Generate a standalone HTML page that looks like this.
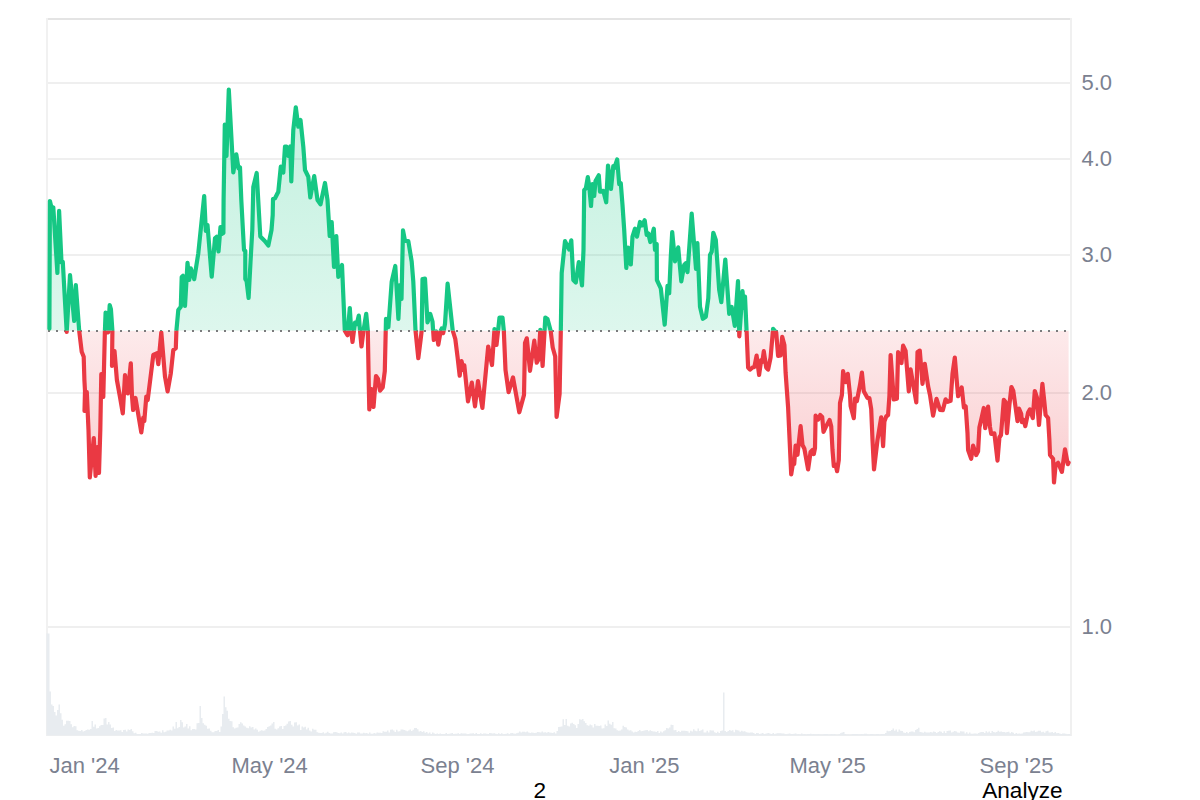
<!DOCTYPE html>
<html lang="en">
<head>
<meta charset="utf-8">
<title>Chart</title>
<style>
html,body{margin:0;padding:0;background:#fff;}
body{width:1200px;height:800px;overflow:hidden;position:relative;font-family:"Liberation Sans",sans-serif;}
svg{position:absolute;left:0;top:0;display:block;}
.ax{font-family:"Liberation Sans",sans-serif;font-size:22px;fill:#7b8190;}
.bt{font-family:"Liberation Sans",sans-serif;font-size:22.6px;fill:#000;}
</style>
</head>
<body>
<svg width="1200" height="800" viewBox="0 0 1200 800">
<defs>
<linearGradient id="gg" gradientUnits="userSpaceOnUse" x1="0" y1="18" x2="0" y2="330.8">
<stop offset="0" stop-color="#16c784" stop-opacity="0.30"/>
<stop offset="1" stop-color="#16c784" stop-opacity="0.145"/>
</linearGradient>
<linearGradient id="rg" gradientUnits="userSpaceOnUse" x1="0" y1="330.8" x2="0" y2="490">
<stop offset="0" stop-color="#ea3943" stop-opacity="0.105"/>
<stop offset="1" stop-color="#ea3943" stop-opacity="0.26"/>
</linearGradient>
<clipPath id="ct"><rect x="46" y="18" width="1026" height="312.8"/></clipPath>
<clipPath id="cb"><rect x="46" y="330.8" width="1026" height="405"/></clipPath>
<clipPath id="cp"><rect x="46" y="18" width="1026" height="718"/></clipPath>
</defs>

<line x1="46" y1="83" x2="1072" y2="83" stroke="#efefef" stroke-width="2"/>
<line x1="46" y1="159" x2="1072" y2="159" stroke="#efefef" stroke-width="2"/>
<line x1="46" y1="255" x2="1072" y2="255" stroke="#efefef" stroke-width="2"/>
<line x1="46" y1="393" x2="1072" y2="393" stroke="#efefef" stroke-width="2"/>
<line x1="46" y1="627" x2="1072" y2="627" stroke="#efefef" stroke-width="2"/>
<line x1="47" y1="19" x2="1072" y2="19" stroke="#e4e4e4" stroke-width="2"/>
<line x1="46" y1="735" x2="1072" y2="735" stroke="#f0f0f0" stroke-width="2"/>
<line x1="47" y1="18" x2="47" y2="736" stroke="#f1f1f1" stroke-width="2"/>
<line x1="1071" y1="18" x2="1071" y2="736" stroke="#f0f0f0" stroke-width="2"/>
<path d="M46.5 735.5 V633.5 H48 V633.5 H49.5 V691.5 H51 V704.4 H52.5 V705.9 H54 V712 H55.5 V715.6 H57 V710.1 H58.5 V704.5 H60 V713.2 H61.5 V719.7 H63 V725.7 H64.5 V724.2 H66 V720.8 H67.5 V720.8 H69 V721.1 H70.5 V724.2 H72 V727.3 H73.5 V726 H75 V726.2 H76.5 V730.2 H78 V730.8 H79.5 V731 H81 V729.9 H82.5 V731.5 H84 V731 H85.5 V729.9 H87 V729.5 H88.5 V729.8 H90 V728.9 H91.5 V720.9 H93 V726.8 H94.5 V724.4 H96 V728.5 H97.5 V728.1 H99 V726.2 H100.5 V725 H102 V725 H103.5 V718.5 H105 V718.1 H106.5 V724.4 H108 V722.1 H109.5 V724.6 H111 V728.1 H112.5 V727.5 H114 V731 H115.5 V729.9 H117 V730.5 H118.5 V730.5 H120 V730.3 H121.5 V731.9 H123 V729.9 H124.5 V729.8 H126 V731.5 H127.5 V729.4 H129 V730 H130.5 V729.1 H132 V731.3 H133.5 V733.2 H135 V732.8 H136.5 V734 H138 V734 H139.5 V733.9 H141 V733 H142.5 V733.5 H144 V733.5 H145.5 V733.5 H147 V733.7 H148.5 V732.9 H150 V733 H151.5 V732.7 H153 V733 H154.5 V731 H156 V731.1 H157.5 V731.8 H159 V731.4 H160.5 V732.8 H162 V730.2 H163.5 V732.3 H165 V731.7 H166.5 V730.4 H168 V730.4 H169.5 V729.7 H171 V730.5 H172.5 V726.5 H174 V728.8 H175.5 V722 H177 V728.2 H178.5 V726.9 H180 V720.1 H181.5 V722.2 H183 V727.6 H184.5 V726.4 H186 V723.9 H187.5 V728.6 H189 V726.3 H190.5 V730.3 H192 V729.1 H193.5 V729 H195 V729.4 H196.5 V723.2 H198 V723 H199.5 V705.9 H201 V718 H202.5 V723.2 H204 V724.8 H205.5 V725.7 H207 V728.8 H208.5 V728.4 H210 V730.8 H211.5 V732.2 H213 V732.3 H214.5 V730.9 H216 V731 H217.5 V730 H219 V731.9 H220.5 V726.6 H222 V714.1 H223.5 V696.5 H225 V707.3 H226.5 V710.8 H228 V718.8 H229.5 V721 H231 V721.3 H232.5 V727.2 H234 V728.4 H235.5 V727.8 H237 V727.4 H238.5 V724.1 H240 V722.3 H241.5 V723.5 H243 V725.5 H244.5 V726.4 H246 V727.7 H247.5 V728.3 H249 V726.2 H250.5 V727.6 H252 V726.9 H253.5 V729.4 H255 V728.5 H256.5 V729.7 H258 V731.8 H259.5 V730.7 H261 V730.2 H262.5 V730.8 H264 V730.6 H265.5 V729 H267 V726.9 H268.5 V726.3 H270 V725.6 H271.5 V723.4 H273 V721.9 H274.5 V728.7 H276 V729.4 H277.5 V728.2 H279 V726.4 H280.5 V726 H282 V729 H283.5 V726 H285 V725.6 H286.5 V723.8 H288 V721.5 H289.5 V721.1 H291 V724.7 H292.5 V726.6 H294 V722.5 H295.5 V722.2 H297 V725.4 H298.5 V724.5 H300 V730 H301.5 V726.5 H303 V727.5 H304.5 V726.8 H306 V729.5 H307.5 V727.8 H309 V730.5 H310.5 V731.6 H312 V728.7 H313.5 V729.8 H315 V729.7 H316.5 V732.2 H318 V732.7 H319.5 V733.1 H321 V732.9 H322.5 V732.3 H324 V733.4 H325.5 V732.7 H327 V731.8 H328.5 V733.1 H330 V733.5 H331.5 V733.4 H333 V732.2 H334.5 V732 H336 V732.2 H337.5 V732.9 H339 V733.3 H340.5 V732.4 H342 V733.5 H343.5 V732.3 H345 V732.1 H346.5 V733.2 H348 V732.6 H349.5 V733.2 H351 V732.5 H352.5 V732.7 H354 V733.1 H355.5 V733.7 H357 V732.4 H358.5 V732.5 H360 V733.5 H361.5 V733.6 H363 V732.7 H364.5 V733.3 H366 V732.9 H367.5 V733.7 H369 V732.5 H370.5 V733.8 H372 V733.8 H373.5 V732.9 H375 V733.5 H376.5 V732.4 H378 V732.7 H379.5 V732.8 H381 V732.9 H382.5 V731.2 H384 V731.8 H385.5 V731.7 H387 V730.5 H388.5 V732.4 H390 V729.8 H391.5 V729.6 H393 V730.4 H394.5 V731.9 H396 V729.8 H397.5 V731.6 H399 V731.3 H400.5 V729.6 H402 V729.5 H403.5 V730 H405 V730.5 H406.5 V731.2 H408 V730.5 H409.5 V729.5 H411 V731.1 H412.5 V729.7 H414 V728.1 H415.5 V727.9 H417 V729.2 H418.5 V731.5 H420 V730.9 H421.5 V731.9 H423 V731.2 H424.5 V732.7 H426 V731.9 H427.5 V733.4 H429 V732.6 H430.5 V734 H432 V732.6 H433.5 V733.4 H435 V733.9 H436.5 V733.4 H438 V733.9 H439.5 V733.6 H441 V733.9 H442.5 V734 H444 V733.9 H445.5 V733.1 H447 V734 H448.5 V733.7 H450 V733.6 H451.5 V733.1 H453 V734.1 H454.5 V733.7 H456 V733.7 H457.5 V733.3 H459 V733.9 H460.5 V733.3 H462 V733.5 H463.5 V733.5 H465 V733.5 H466.5 V734.2 H468 V733.9 H469.5 V733.6 H471 V733.6 H472.5 V733.2 H474 V733.9 H475.5 V733.1 H477 V734 H478.5 V733.9 H480 V733.3 H481.5 V733.9 H483 V733.5 H484.5 V733.4 H486 V733.8 H487.5 V734.1 H489 V733.1 H490.5 V733.3 H492 V733.6 H493.5 V733.3 H495 V733.7 H496.5 V734.2 H498 V733.2 H499.5 V734.1 H501 V733.3 H502.5 V734.2 H504 V733.9 H505.5 V733.8 H507 V733.2 H508.5 V734.2 H510 V733.3 H511.5 V733.1 H513 V733.5 H514.5 V733.7 H516 V733.2 H517.5 V732.7 H519 V731.6 H520.5 V732.5 H522 V731.8 H523.5 V731.8 H525 V732.3 H526.5 V731.5 H528 V732.4 H529.5 V733.1 H531 V732.4 H532.5 V732.8 H534 V733.1 H535.5 V732.8 H537 V732 H538.5 V732.3 H540 V732.4 H541.5 V731.4 H543 V732.5 H544.5 V732.3 H546 V732.7 H547.5 V731.9 H549 V732.4 H550.5 V732.8 H552 V732.9 H553.5 V732.2 H555 V733.4 H556.5 V731.1 H558 V727 H559.5 V726.7 H561 V726.4 H562.5 V719.2 H564 V724.9 H565.5 V718.9 H567 V725.8 H568.5 V726.6 H570 V723.5 H571.5 V722.7 H573 V724 H574.5 V725.2 H576 V728.1 H577.5 V724 H579 V719.3 H580.5 V719.7 H582 V718.9 H583.5 V721.2 H585 V723 H586.5 V725.2 H588 V725.7 H589.5 V724.6 H591 V725.3 H592.5 V727.6 H594 V724.1 H595.5 V725.7 H597 V725.7 H598.5 V726 H600 V725.4 H601.5 V728.5 H603 V728.2 H604.5 V724.4 H606 V726.1 H607.5 V720.5 H609 V723.8 H610.5 V724.7 H612 V721.9 H613.5 V728.3 H615 V728.5 H616.5 V730.2 H618 V730.8 H619.5 V730.6 H621 V729.5 H622.5 V725.8 H624 V727 H625.5 V727.5 H627 V729.6 H628.5 V730.5 H630 V730.2 H631.5 V731.5 H633 V732.4 H634.5 V731.8 H636 V732 H637.5 V731 H639 V730.1 H640.5 V731.3 H642 V731.1 H643.5 V730.6 H645 V730.3 H646.5 V730.1 H648 V731.2 H649.5 V730.2 H651 V730.9 H652.5 V731.5 H654 V731.5 H655.5 V732 H657 V731 H658.5 V733 H660 V731.6 H661.5 V732.5 H663 V731.3 H664.5 V730.2 H666 V728 H667.5 V728.6 H669 V727.6 H670.5 V724.8 H672 V725.1 H673.5 V730.2 H675 V730 H676.5 V732.1 H678 V730.9 H679.5 V732 H681 V730.8 H682.5 V730.7 H684 V730.7 H685.5 V731 H687 V731.3 H688.5 V732.8 H690 V730.7 H691.5 V731.5 H693 V729.3 H694.5 V730.7 H696 V731.2 H697.5 V728.4 H699 V730.9 H700.5 V730.3 H702 V729.6 H703.5 V732.4 H705 V732.4 H706.5 V730.7 H708 V732.5 H709.5 V730.3 H711 V730.4 H712.5 V730.6 H714 V732.3 H715.5 V732.9 H717 V731.8 H718.5 V733 H720 V730.9 H721.5 V730.4 H723 V692.5 H724.5 V730.9 H726 V732.1 H727.5 V730.9 H729 V730 H730.5 V730.7 H732 V730.3 H733.5 V732.2 H735 V729.8 H736.5 V730.2 H738 V730.6 H739.5 V731.8 H741 V730.8 H742.5 V731.4 H744 V731.3 H745.5 V732.2 H747 V732.4 H748.5 V732.8 H750 V732.5 H751.5 V732.6 H753 V733.1 H754.5 V733.9 H756 V733.1 H757.5 V733.2 H759 V734 H760.5 V733.5 H762 V732.9 H763.5 V734.1 H765 V733.7 H766.5 V733.2 H768 V732.9 H769.5 V733.8 H771 V733.9 H772.5 V732.9 H774 V734.2 H775.5 V733.6 H777 V733.2 H778.5 V733.3 H780 V733.2 H781.5 V733.6 H783 V733.5 H784.5 V734.3 H786 V734.2 H787.5 V733.8 H789 V733.5 H790.5 V733.9 H792 V734 H793.5 V733.8 H795 V733.4 H796.5 V734.3 H798 V734.1 H799.5 V734.4 H801 V733.6 H802.5 V734.3 H804 V734.1 H805.5 V734.5 H807 V734 H808.5 V734.1 H810 V733.8 H811.5 V734.3 H813 V733.9 H814.5 V734.2 H816 V734.3 H817.5 V733.9 H819 V734.3 H820.5 V734.4 H822 V734.6 H823.5 V733.9 H825 V733.9 H826.5 V734 H828 V734.6 H829.5 V734.3 H831 V734.1 H832.5 V734.2 H834 V734 H835.5 V734.7 H837 V734.7 H838.5 V734 H840 V733.2 H841.5 V732.5 H843 V732.1 H844.5 V734 H846 V734.5 H847.5 V734.4 H849 V734.7 H850.5 V734.5 H852 V734.1 H853.5 V734 H855 V734.1 H856.5 V733.9 H858 V734.2 H859.5 V734.3 H861 V733.9 H862.5 V734.3 H864 V733.8 H865.5 V733.8 H867 V734.3 H868.5 V734.6 H870 V734.1 H871.5 V734.1 H873 V734.3 H874.5 V734.5 H876 V733.9 H877.5 V734.1 H879 V734.4 H880.5 V734 H882 V734.1 H883.5 V734 H885 V733 H886.5 V730.7 H888 V731.3 H889.5 V730.9 H891 V730 H892.5 V728.4 H894 V730.8 H895.5 V729.5 H897 V731.8 H898.5 V729.4 H900 V730.8 H901.5 V730.9 H903 V732.4 H904.5 V732.9 H906 V732 H907.5 V733.2 H909 V732 H910.5 V731.4 H912 V731.4 H913.5 V732.3 H915 V729.9 H916.5 V729.1 H918 V727.8 H919.5 V731.9 H921 V732.3 H922.5 V732.8 H924 V731.8 H925.5 V732.6 H927 V732.4 H928.5 V732.5 H930 V732 H931.5 V732.5 H933 V731.6 H934.5 V731.9 H936 V732.9 H937.5 V732.1 H939 V731.3 H940.5 V731.8 H942 V733 H943.5 V731.2 H945 V732.9 H946.5 V731.1 H948 V730.7 H949.5 V730.5 H951 V732.5 H952.5 V731.7 H954 V731.1 H955.5 V731.6 H957 V732.4 H958.5 V732.8 H960 V731.3 H961.5 V731.4 H963 V731.4 H964.5 V733.5 H966 V732.2 H967.5 V733.7 H969 V732.5 H970.5 V733.8 H972 V733.7 H973.5 V733.6 H975 V733.5 H976.5 V733.7 H978 V733.1 H979.5 V732.2 H981 V731.9 H982.5 V731.9 H984 V733.1 H985.5 V731.2 H987 V732.4 H988.5 V731.4 H990 V733 H991.5 V731 H993 V732.1 H994.5 V732.5 H996 V732 H997.5 V730.8 H999 V731.8 H1000.5 V731.4 H1002 V732 H1003.5 V732 H1005 V732.4 H1006.5 V732.1 H1008 V731.7 H1009.5 V733.2 H1011 V732.1 H1012.5 V732.8 H1014 V734 H1015.5 V733 H1017 V733.7 H1018.5 V733.6 H1020 V733.8 H1021.5 V733.6 H1023 V732.6 H1024.5 V732.3 H1026 V731.9 H1027.5 V732.2 H1029 V732.3 H1030.5 V730.8 H1032 V731.2 H1033.5 V730.6 H1035 V732 H1036.5 V731.4 H1038 V730.8 H1039.5 V730.8 H1041 V732.2 H1042.5 V731.7 H1044 V732.7 H1045.5 V731.3 H1047 V730.8 H1048.5 V732.5 H1050 V732.6 H1051.5 V731.9 H1053 V733 H1054.5 V732 H1056 V733.3 H1057.5 V733 H1059 V733.6 H1060.5 V734.1 H1062 V733.5 H1063.5 V733.5 H1065 V733.8 H1066.5 V734.2 H1068 V734.1 H1069.5 V733.9 H1070.6 V735.5 Z" fill="#e8ecf0" clip-path="url(#cp)"/>
<g clip-path="url(#ct)"><path d="M49.4 328.7 L49.9 201 L51.8 209 L53.3 207.5 L57.4 273 L59.1 210.8 L61.5 262.5 L62.8 262 L66.7 332 L70 275 L74.2 321 L75.8 285 L79.2 330.8 L81.7 351.7 L83.7 356.7 L84.4 380 L85 391 L84.5 411 L86.8 392 L88.5 430 L89.8 477.5 L93.8 438 L95.6 476 L97.3 447 L99 473 L100.3 430 L101.3 374 L103.3 397 L104.9 331 L105.6 312.5 L108.1 332.3 L109.7 305 L110.9 309 L112.4 331 L112 366 L114.5 351 L116.9 380 L120 397 L122.8 413.5 L125 375 L127.8 393.5 L130.8 363.3 L132 396 L133.1 410 L135.5 398 L141.3 432.5 L143.3 417.5 L144.3 421 L146.3 396.5 L147.7 400 L153.3 355 L156.7 353.3 L158.3 364.2 L161.3 332.5 L165 376.7 L167.6 391.5 L170.8 373.3 L173.3 350 L175.8 348.3 L176.4 330.8 L178.3 310 L180.8 306.7 L181.7 277 L183 275.8 L185 305.8 L187.5 262.8 L189.2 280 L190.8 268.3 L194.2 279.2 L198.3 253.3 L204.2 196 L205.8 230.8 L207.5 225 L211.7 276.7 L215 238.3 L216.7 236.7 L218.5 251.5 L220.5 227 L221.8 234 L223.4 233 L223.6 200 L224.8 124.5 L226.5 156 L228.8 89.5 L233.3 172.5 L236.3 154.3 L238.5 168.5 L240 167.5 L241.3 200 L244 250 L245.3 251 L245.3 279 L246.6 281 L248.6 298 L250.5 262 L252.3 230 L253.3 187 L256.7 173 L258.5 205 L260.3 236.5 L265 241.2 L268.3 245.5 L271.5 230 L272.7 215 L273 199 L275 198.3 L278.3 191.7 L280.8 166.7 L283.3 172.5 L285 146.7 L286.5 146.5 L288.2 156 L290.3 146.5 L291.3 181.5 L293.3 130 L295.8 107.3 L298.3 126.7 L300.5 120 L303.3 146.7 L305 170 L308.3 176.7 L310.3 197.5 L314.2 176 L317.5 200 L320.5 204.2 L325 183 L327.5 200 L329.7 236 L331.7 222 L334 267 L336.3 236 L338.3 277 L342 265 L344.8 330.6 L347.5 335.3 L349.8 308 L351.2 330.6 L352.5 342 L355 322.5 L356.8 324 L358.8 315.6 L360 330.6 L361.5 346.5 L363.5 330.6 L366.2 313.8 L367.8 330.6 L368.8 386 L369.3 409.5 L371.5 389 L373.5 407 L376 376 L378 379 L380 390.7 L382.7 387.5 L384.8 371 L386 318.8 L388.4 327 L391.7 281.7 L395.3 266 L398.4 319 L400 285 L401.5 299 L403 230.3 L405 240.8 L408.3 241 L411.7 261.7 L413.3 281.7 L415.5 330.5 L418.3 358.2 L420.6 340 L421.7 330.5 L422.5 279 L425 278.7 L427.5 322.3 L430.3 314 L432.5 321.5 L433.8 340 L436.3 331.5 L438.3 344.6 L440.8 330.5 L441.7 328.5 L443.2 333.2 L445 324 L447.6 283.7 L452.7 330.5 L455.3 339 L457.5 356.5 L459.7 375.7 L461.5 361 L463.5 370 L464.3 365.3 L468 401.3 L471.8 382.6 L475 406.3 L478 381 L482.4 408 L488.2 346.5 L492 365 L494.5 329 L496.5 345 L499.5 317.5 L502.5 317.5 L503.8 330.5 L505.5 370 L508.6 392.2 L513 377.4 L519.3 412.3 L524 395 L525 343 L526.8 338.3 L530 370.8 L534.3 340.7 L536.7 362.7 L538.5 359.5 L540.3 329.8 L542.6 366 L545.3 317.6 L547.5 319 L550.6 330.5 L552.7 347.5 L555.2 356.5 L556.6 417 L559.6 394 L560.8 331 L561.7 273 L565 241.2 L569.2 249.5 L571.3 240.3 L573.3 280 L575.8 282.5 L578.8 262 L582 285.5 L583.5 250 L584.2 190 L585.8 188.5 L587.8 177 L589.2 186 L591 206 L592.5 184 L594.2 196 L595.5 181 L598.8 175.3 L600 191.7 L603.3 190.8 L606.2 202.3 L608 165.6 L611 189 L613.3 166 L614.3 168 L617.2 159.5 L619.2 184.2 L620.8 183.3 L622.5 205 L624.2 230 L626.3 268 L628 247.5 L629.2 252 L630.8 264.5 L632.5 236.7 L635 228.7 L637 236.7 L640 222 L642 225.5 L644.7 220.3 L646.7 235 L648.3 233.5 L650.3 242 L653.8 228.7 L655 250 L656.7 244 L656.9 280 L660.8 288.3 L664.7 324.7 L667.5 285.8 L669.2 293.3 L670.8 256.7 L672.2 232 L675 261.3 L678.2 247.4 L681.3 281.3 L684.2 265 L685.8 263.3 L687.5 272.2 L691.7 213.7 L696 268.8 L697.4 243 L700 306.7 L702.8 318.8 L705.8 316.7 L708.3 298.3 L710 255 L711.7 251.7 L713.3 232.8 L715.8 240 L719.2 290 L721.3 302.2 L725.3 259.5 L727.5 290 L729.2 313.8 L731.7 307 L734.8 326 L738 281.2 L739.3 336.3 L742.5 291.2 L744 308 L745 296.5 L746.6 331 L748.1 367.5 L750 369.6 L752.5 367.5 L754.4 366.9 L756.6 355.6 L759.1 375 L761.2 360 L762.3 362 L763.8 351.2 L766.2 367.5 L768.1 369.6 L770.6 357.5 L773.1 328.8 L776.2 332.5 L778.1 355.9 L780.6 355.5 L782.2 336.9 L784.4 345 L785.6 372.5 L788.1 407.5 L791.2 474.4 L793.5 460 L794.2 464 L795.6 445.6 L797.5 454.8 L800.6 426.2 L802.5 445 L804.4 448.8 L808.1 469.4 L810.6 451.9 L812.5 450 L813.8 454 L815 448 L815.6 415.6 L818.1 419.6 L820.2 415 L822.2 417 L823.5 431.9 L826.2 426.2 L829.6 420 L831.2 426.2 L832.5 450 L833.8 466 L835.6 465 L837.1 471.2 L838.8 460 L840 403 L841.9 395 L843.1 371.2 L845.6 382.1 L847.8 373.8 L850 395 L850.6 406 L853.8 418.1 L855 398.5 L856.9 401 L860 385 L861.9 372.5 L863.8 391.2 L867.5 398 L869.4 398 L871.2 409 L872.5 440 L874 469.4 L877.5 440 L881.2 417.3 L883.1 446.2 L884.4 421.5 L886.2 416.5 L888.1 415 L889.4 396 L890.6 355 L893.8 399.5 L896.9 398.8 L898.1 352 L901.5 363 L903.1 345.6 L905.6 351 L908.8 391.4 L910.6 369.4 L916.3 402.5 L917.5 352 L919.8 350.6 L922.5 383.8 L924.8 363.8 L928.1 386.2 L930 395 L933.1 415.6 L936.5 398.8 L940 409.8 L942.8 410.2 L945.6 399.4 L947.8 401.8 L950.6 400.8 L952.5 373.8 L954.8 357.5 L956.9 382.5 L958.1 396.2 L961.7 387.5 L963.9 407.4 L965.7 406.5 L967.5 433 L968.1 450 L971.2 458.8 L973.1 445.6 L976.2 455 L978.1 451.2 L979.4 427.5 L981.7 417.5 L983.8 408 L985.2 428.1 L988.1 406.7 L990 427 L991.2 433.8 L994.4 433.4 L997.5 460.6 L999.4 437.5 L1001 435 L1003.8 399.8 L1005.6 402 L1006.9 433.1 L1009.4 405 L1011.4 387 L1013.3 391 L1015.6 407.5 L1017.5 421.2 L1019 408.6 L1021.2 413.8 L1021.9 422.2 L1023.8 420 L1025.3 426.2 L1028.1 412.5 L1029.9 409.4 L1032.8 418.1 L1034.8 391 L1036.9 397.5 L1039 425 L1042.4 383.8 L1044.4 402.5 L1045.6 415 L1048.1 418 L1049.4 440 L1050 455 L1053.1 458.8 L1054 482.5 L1055.6 465 L1058.1 462.8 L1061.9 471.9 L1065 449.4 L1067.8 464.2 L1068.6 462.6 L1068.6 330.8 L49.4 330.8 Z" fill="url(#gg)"/></g>
<g clip-path="url(#cb)"><path d="M49.4 328.7 L49.9 201 L51.8 209 L53.3 207.5 L57.4 273 L59.1 210.8 L61.5 262.5 L62.8 262 L66.7 332 L70 275 L74.2 321 L75.8 285 L79.2 330.8 L81.7 351.7 L83.7 356.7 L84.4 380 L85 391 L84.5 411 L86.8 392 L88.5 430 L89.8 477.5 L93.8 438 L95.6 476 L97.3 447 L99 473 L100.3 430 L101.3 374 L103.3 397 L104.9 331 L105.6 312.5 L108.1 332.3 L109.7 305 L110.9 309 L112.4 331 L112 366 L114.5 351 L116.9 380 L120 397 L122.8 413.5 L125 375 L127.8 393.5 L130.8 363.3 L132 396 L133.1 410 L135.5 398 L141.3 432.5 L143.3 417.5 L144.3 421 L146.3 396.5 L147.7 400 L153.3 355 L156.7 353.3 L158.3 364.2 L161.3 332.5 L165 376.7 L167.6 391.5 L170.8 373.3 L173.3 350 L175.8 348.3 L176.4 330.8 L178.3 310 L180.8 306.7 L181.7 277 L183 275.8 L185 305.8 L187.5 262.8 L189.2 280 L190.8 268.3 L194.2 279.2 L198.3 253.3 L204.2 196 L205.8 230.8 L207.5 225 L211.7 276.7 L215 238.3 L216.7 236.7 L218.5 251.5 L220.5 227 L221.8 234 L223.4 233 L223.6 200 L224.8 124.5 L226.5 156 L228.8 89.5 L233.3 172.5 L236.3 154.3 L238.5 168.5 L240 167.5 L241.3 200 L244 250 L245.3 251 L245.3 279 L246.6 281 L248.6 298 L250.5 262 L252.3 230 L253.3 187 L256.7 173 L258.5 205 L260.3 236.5 L265 241.2 L268.3 245.5 L271.5 230 L272.7 215 L273 199 L275 198.3 L278.3 191.7 L280.8 166.7 L283.3 172.5 L285 146.7 L286.5 146.5 L288.2 156 L290.3 146.5 L291.3 181.5 L293.3 130 L295.8 107.3 L298.3 126.7 L300.5 120 L303.3 146.7 L305 170 L308.3 176.7 L310.3 197.5 L314.2 176 L317.5 200 L320.5 204.2 L325 183 L327.5 200 L329.7 236 L331.7 222 L334 267 L336.3 236 L338.3 277 L342 265 L344.8 330.6 L347.5 335.3 L349.8 308 L351.2 330.6 L352.5 342 L355 322.5 L356.8 324 L358.8 315.6 L360 330.6 L361.5 346.5 L363.5 330.6 L366.2 313.8 L367.8 330.6 L368.8 386 L369.3 409.5 L371.5 389 L373.5 407 L376 376 L378 379 L380 390.7 L382.7 387.5 L384.8 371 L386 318.8 L388.4 327 L391.7 281.7 L395.3 266 L398.4 319 L400 285 L401.5 299 L403 230.3 L405 240.8 L408.3 241 L411.7 261.7 L413.3 281.7 L415.5 330.5 L418.3 358.2 L420.6 340 L421.7 330.5 L422.5 279 L425 278.7 L427.5 322.3 L430.3 314 L432.5 321.5 L433.8 340 L436.3 331.5 L438.3 344.6 L440.8 330.5 L441.7 328.5 L443.2 333.2 L445 324 L447.6 283.7 L452.7 330.5 L455.3 339 L457.5 356.5 L459.7 375.7 L461.5 361 L463.5 370 L464.3 365.3 L468 401.3 L471.8 382.6 L475 406.3 L478 381 L482.4 408 L488.2 346.5 L492 365 L494.5 329 L496.5 345 L499.5 317.5 L502.5 317.5 L503.8 330.5 L505.5 370 L508.6 392.2 L513 377.4 L519.3 412.3 L524 395 L525 343 L526.8 338.3 L530 370.8 L534.3 340.7 L536.7 362.7 L538.5 359.5 L540.3 329.8 L542.6 366 L545.3 317.6 L547.5 319 L550.6 330.5 L552.7 347.5 L555.2 356.5 L556.6 417 L559.6 394 L560.8 331 L561.7 273 L565 241.2 L569.2 249.5 L571.3 240.3 L573.3 280 L575.8 282.5 L578.8 262 L582 285.5 L583.5 250 L584.2 190 L585.8 188.5 L587.8 177 L589.2 186 L591 206 L592.5 184 L594.2 196 L595.5 181 L598.8 175.3 L600 191.7 L603.3 190.8 L606.2 202.3 L608 165.6 L611 189 L613.3 166 L614.3 168 L617.2 159.5 L619.2 184.2 L620.8 183.3 L622.5 205 L624.2 230 L626.3 268 L628 247.5 L629.2 252 L630.8 264.5 L632.5 236.7 L635 228.7 L637 236.7 L640 222 L642 225.5 L644.7 220.3 L646.7 235 L648.3 233.5 L650.3 242 L653.8 228.7 L655 250 L656.7 244 L656.9 280 L660.8 288.3 L664.7 324.7 L667.5 285.8 L669.2 293.3 L670.8 256.7 L672.2 232 L675 261.3 L678.2 247.4 L681.3 281.3 L684.2 265 L685.8 263.3 L687.5 272.2 L691.7 213.7 L696 268.8 L697.4 243 L700 306.7 L702.8 318.8 L705.8 316.7 L708.3 298.3 L710 255 L711.7 251.7 L713.3 232.8 L715.8 240 L719.2 290 L721.3 302.2 L725.3 259.5 L727.5 290 L729.2 313.8 L731.7 307 L734.8 326 L738 281.2 L739.3 336.3 L742.5 291.2 L744 308 L745 296.5 L746.6 331 L748.1 367.5 L750 369.6 L752.5 367.5 L754.4 366.9 L756.6 355.6 L759.1 375 L761.2 360 L762.3 362 L763.8 351.2 L766.2 367.5 L768.1 369.6 L770.6 357.5 L773.1 328.8 L776.2 332.5 L778.1 355.9 L780.6 355.5 L782.2 336.9 L784.4 345 L785.6 372.5 L788.1 407.5 L791.2 474.4 L793.5 460 L794.2 464 L795.6 445.6 L797.5 454.8 L800.6 426.2 L802.5 445 L804.4 448.8 L808.1 469.4 L810.6 451.9 L812.5 450 L813.8 454 L815 448 L815.6 415.6 L818.1 419.6 L820.2 415 L822.2 417 L823.5 431.9 L826.2 426.2 L829.6 420 L831.2 426.2 L832.5 450 L833.8 466 L835.6 465 L837.1 471.2 L838.8 460 L840 403 L841.9 395 L843.1 371.2 L845.6 382.1 L847.8 373.8 L850 395 L850.6 406 L853.8 418.1 L855 398.5 L856.9 401 L860 385 L861.9 372.5 L863.8 391.2 L867.5 398 L869.4 398 L871.2 409 L872.5 440 L874 469.4 L877.5 440 L881.2 417.3 L883.1 446.2 L884.4 421.5 L886.2 416.5 L888.1 415 L889.4 396 L890.6 355 L893.8 399.5 L896.9 398.8 L898.1 352 L901.5 363 L903.1 345.6 L905.6 351 L908.8 391.4 L910.6 369.4 L916.3 402.5 L917.5 352 L919.8 350.6 L922.5 383.8 L924.8 363.8 L928.1 386.2 L930 395 L933.1 415.6 L936.5 398.8 L940 409.8 L942.8 410.2 L945.6 399.4 L947.8 401.8 L950.6 400.8 L952.5 373.8 L954.8 357.5 L956.9 382.5 L958.1 396.2 L961.7 387.5 L963.9 407.4 L965.7 406.5 L967.5 433 L968.1 450 L971.2 458.8 L973.1 445.6 L976.2 455 L978.1 451.2 L979.4 427.5 L981.7 417.5 L983.8 408 L985.2 428.1 L988.1 406.7 L990 427 L991.2 433.8 L994.4 433.4 L997.5 460.6 L999.4 437.5 L1001 435 L1003.8 399.8 L1005.6 402 L1006.9 433.1 L1009.4 405 L1011.4 387 L1013.3 391 L1015.6 407.5 L1017.5 421.2 L1019 408.6 L1021.2 413.8 L1021.9 422.2 L1023.8 420 L1025.3 426.2 L1028.1 412.5 L1029.9 409.4 L1032.8 418.1 L1034.8 391 L1036.9 397.5 L1039 425 L1042.4 383.8 L1044.4 402.5 L1045.6 415 L1048.1 418 L1049.4 440 L1050 455 L1053.1 458.8 L1054 482.5 L1055.6 465 L1058.1 462.8 L1061.9 471.9 L1065 449.4 L1067.8 464.2 L1068.6 462.6 L1068.6 330.8 L49.4 330.8 Z" fill="url(#rg)"/></g>
<line x1="48" y1="331" x2="1070" y2="331" stroke="#7b7b7d" stroke-width="2" stroke-dasharray="2 6"/>
<g clip-path="url(#ct)"><path d="M49.4 328.7 L49.9 201 L51.8 209 L53.3 207.5 L57.4 273 L59.1 210.8 L61.5 262.5 L62.8 262 L66.7 332 L70 275 L74.2 321 L75.8 285 L79.2 330.8 L81.7 351.7 L83.7 356.7 L84.4 380 L85 391 L84.5 411 L86.8 392 L88.5 430 L89.8 477.5 L93.8 438 L95.6 476 L97.3 447 L99 473 L100.3 430 L101.3 374 L103.3 397 L104.9 331 L105.6 312.5 L108.1 332.3 L109.7 305 L110.9 309 L112.4 331 L112 366 L114.5 351 L116.9 380 L120 397 L122.8 413.5 L125 375 L127.8 393.5 L130.8 363.3 L132 396 L133.1 410 L135.5 398 L141.3 432.5 L143.3 417.5 L144.3 421 L146.3 396.5 L147.7 400 L153.3 355 L156.7 353.3 L158.3 364.2 L161.3 332.5 L165 376.7 L167.6 391.5 L170.8 373.3 L173.3 350 L175.8 348.3 L176.4 330.8 L178.3 310 L180.8 306.7 L181.7 277 L183 275.8 L185 305.8 L187.5 262.8 L189.2 280 L190.8 268.3 L194.2 279.2 L198.3 253.3 L204.2 196 L205.8 230.8 L207.5 225 L211.7 276.7 L215 238.3 L216.7 236.7 L218.5 251.5 L220.5 227 L221.8 234 L223.4 233 L223.6 200 L224.8 124.5 L226.5 156 L228.8 89.5 L233.3 172.5 L236.3 154.3 L238.5 168.5 L240 167.5 L241.3 200 L244 250 L245.3 251 L245.3 279 L246.6 281 L248.6 298 L250.5 262 L252.3 230 L253.3 187 L256.7 173 L258.5 205 L260.3 236.5 L265 241.2 L268.3 245.5 L271.5 230 L272.7 215 L273 199 L275 198.3 L278.3 191.7 L280.8 166.7 L283.3 172.5 L285 146.7 L286.5 146.5 L288.2 156 L290.3 146.5 L291.3 181.5 L293.3 130 L295.8 107.3 L298.3 126.7 L300.5 120 L303.3 146.7 L305 170 L308.3 176.7 L310.3 197.5 L314.2 176 L317.5 200 L320.5 204.2 L325 183 L327.5 200 L329.7 236 L331.7 222 L334 267 L336.3 236 L338.3 277 L342 265 L344.8 330.6 L347.5 335.3 L349.8 308 L351.2 330.6 L352.5 342 L355 322.5 L356.8 324 L358.8 315.6 L360 330.6 L361.5 346.5 L363.5 330.6 L366.2 313.8 L367.8 330.6 L368.8 386 L369.3 409.5 L371.5 389 L373.5 407 L376 376 L378 379 L380 390.7 L382.7 387.5 L384.8 371 L386 318.8 L388.4 327 L391.7 281.7 L395.3 266 L398.4 319 L400 285 L401.5 299 L403 230.3 L405 240.8 L408.3 241 L411.7 261.7 L413.3 281.7 L415.5 330.5 L418.3 358.2 L420.6 340 L421.7 330.5 L422.5 279 L425 278.7 L427.5 322.3 L430.3 314 L432.5 321.5 L433.8 340 L436.3 331.5 L438.3 344.6 L440.8 330.5 L441.7 328.5 L443.2 333.2 L445 324 L447.6 283.7 L452.7 330.5 L455.3 339 L457.5 356.5 L459.7 375.7 L461.5 361 L463.5 370 L464.3 365.3 L468 401.3 L471.8 382.6 L475 406.3 L478 381 L482.4 408 L488.2 346.5 L492 365 L494.5 329 L496.5 345 L499.5 317.5 L502.5 317.5 L503.8 330.5 L505.5 370 L508.6 392.2 L513 377.4 L519.3 412.3 L524 395 L525 343 L526.8 338.3 L530 370.8 L534.3 340.7 L536.7 362.7 L538.5 359.5 L540.3 329.8 L542.6 366 L545.3 317.6 L547.5 319 L550.6 330.5 L552.7 347.5 L555.2 356.5 L556.6 417 L559.6 394 L560.8 331 L561.7 273 L565 241.2 L569.2 249.5 L571.3 240.3 L573.3 280 L575.8 282.5 L578.8 262 L582 285.5 L583.5 250 L584.2 190 L585.8 188.5 L587.8 177 L589.2 186 L591 206 L592.5 184 L594.2 196 L595.5 181 L598.8 175.3 L600 191.7 L603.3 190.8 L606.2 202.3 L608 165.6 L611 189 L613.3 166 L614.3 168 L617.2 159.5 L619.2 184.2 L620.8 183.3 L622.5 205 L624.2 230 L626.3 268 L628 247.5 L629.2 252 L630.8 264.5 L632.5 236.7 L635 228.7 L637 236.7 L640 222 L642 225.5 L644.7 220.3 L646.7 235 L648.3 233.5 L650.3 242 L653.8 228.7 L655 250 L656.7 244 L656.9 280 L660.8 288.3 L664.7 324.7 L667.5 285.8 L669.2 293.3 L670.8 256.7 L672.2 232 L675 261.3 L678.2 247.4 L681.3 281.3 L684.2 265 L685.8 263.3 L687.5 272.2 L691.7 213.7 L696 268.8 L697.4 243 L700 306.7 L702.8 318.8 L705.8 316.7 L708.3 298.3 L710 255 L711.7 251.7 L713.3 232.8 L715.8 240 L719.2 290 L721.3 302.2 L725.3 259.5 L727.5 290 L729.2 313.8 L731.7 307 L734.8 326 L738 281.2 L739.3 336.3 L742.5 291.2 L744 308 L745 296.5 L746.6 331 L748.1 367.5 L750 369.6 L752.5 367.5 L754.4 366.9 L756.6 355.6 L759.1 375 L761.2 360 L762.3 362 L763.8 351.2 L766.2 367.5 L768.1 369.6 L770.6 357.5 L773.1 328.8 L776.2 332.5 L778.1 355.9 L780.6 355.5 L782.2 336.9 L784.4 345 L785.6 372.5 L788.1 407.5 L791.2 474.4 L793.5 460 L794.2 464 L795.6 445.6 L797.5 454.8 L800.6 426.2 L802.5 445 L804.4 448.8 L808.1 469.4 L810.6 451.9 L812.5 450 L813.8 454 L815 448 L815.6 415.6 L818.1 419.6 L820.2 415 L822.2 417 L823.5 431.9 L826.2 426.2 L829.6 420 L831.2 426.2 L832.5 450 L833.8 466 L835.6 465 L837.1 471.2 L838.8 460 L840 403 L841.9 395 L843.1 371.2 L845.6 382.1 L847.8 373.8 L850 395 L850.6 406 L853.8 418.1 L855 398.5 L856.9 401 L860 385 L861.9 372.5 L863.8 391.2 L867.5 398 L869.4 398 L871.2 409 L872.5 440 L874 469.4 L877.5 440 L881.2 417.3 L883.1 446.2 L884.4 421.5 L886.2 416.5 L888.1 415 L889.4 396 L890.6 355 L893.8 399.5 L896.9 398.8 L898.1 352 L901.5 363 L903.1 345.6 L905.6 351 L908.8 391.4 L910.6 369.4 L916.3 402.5 L917.5 352 L919.8 350.6 L922.5 383.8 L924.8 363.8 L928.1 386.2 L930 395 L933.1 415.6 L936.5 398.8 L940 409.8 L942.8 410.2 L945.6 399.4 L947.8 401.8 L950.6 400.8 L952.5 373.8 L954.8 357.5 L956.9 382.5 L958.1 396.2 L961.7 387.5 L963.9 407.4 L965.7 406.5 L967.5 433 L968.1 450 L971.2 458.8 L973.1 445.6 L976.2 455 L978.1 451.2 L979.4 427.5 L981.7 417.5 L983.8 408 L985.2 428.1 L988.1 406.7 L990 427 L991.2 433.8 L994.4 433.4 L997.5 460.6 L999.4 437.5 L1001 435 L1003.8 399.8 L1005.6 402 L1006.9 433.1 L1009.4 405 L1011.4 387 L1013.3 391 L1015.6 407.5 L1017.5 421.2 L1019 408.6 L1021.2 413.8 L1021.9 422.2 L1023.8 420 L1025.3 426.2 L1028.1 412.5 L1029.9 409.4 L1032.8 418.1 L1034.8 391 L1036.9 397.5 L1039 425 L1042.4 383.8 L1044.4 402.5 L1045.6 415 L1048.1 418 L1049.4 440 L1050 455 L1053.1 458.8 L1054 482.5 L1055.6 465 L1058.1 462.8 L1061.9 471.9 L1065 449.4 L1067.8 464.2 L1068.6 462.6" fill="none" stroke="#16c784" stroke-width="4.2" stroke-linejoin="round" stroke-linecap="round"/></g>
<g clip-path="url(#cb)"><path d="M49.4 328.7 L49.9 201 L51.8 209 L53.3 207.5 L57.4 273 L59.1 210.8 L61.5 262.5 L62.8 262 L66.7 332 L70 275 L74.2 321 L75.8 285 L79.2 330.8 L81.7 351.7 L83.7 356.7 L84.4 380 L85 391 L84.5 411 L86.8 392 L88.5 430 L89.8 477.5 L93.8 438 L95.6 476 L97.3 447 L99 473 L100.3 430 L101.3 374 L103.3 397 L104.9 331 L105.6 312.5 L108.1 332.3 L109.7 305 L110.9 309 L112.4 331 L112 366 L114.5 351 L116.9 380 L120 397 L122.8 413.5 L125 375 L127.8 393.5 L130.8 363.3 L132 396 L133.1 410 L135.5 398 L141.3 432.5 L143.3 417.5 L144.3 421 L146.3 396.5 L147.7 400 L153.3 355 L156.7 353.3 L158.3 364.2 L161.3 332.5 L165 376.7 L167.6 391.5 L170.8 373.3 L173.3 350 L175.8 348.3 L176.4 330.8 L178.3 310 L180.8 306.7 L181.7 277 L183 275.8 L185 305.8 L187.5 262.8 L189.2 280 L190.8 268.3 L194.2 279.2 L198.3 253.3 L204.2 196 L205.8 230.8 L207.5 225 L211.7 276.7 L215 238.3 L216.7 236.7 L218.5 251.5 L220.5 227 L221.8 234 L223.4 233 L223.6 200 L224.8 124.5 L226.5 156 L228.8 89.5 L233.3 172.5 L236.3 154.3 L238.5 168.5 L240 167.5 L241.3 200 L244 250 L245.3 251 L245.3 279 L246.6 281 L248.6 298 L250.5 262 L252.3 230 L253.3 187 L256.7 173 L258.5 205 L260.3 236.5 L265 241.2 L268.3 245.5 L271.5 230 L272.7 215 L273 199 L275 198.3 L278.3 191.7 L280.8 166.7 L283.3 172.5 L285 146.7 L286.5 146.5 L288.2 156 L290.3 146.5 L291.3 181.5 L293.3 130 L295.8 107.3 L298.3 126.7 L300.5 120 L303.3 146.7 L305 170 L308.3 176.7 L310.3 197.5 L314.2 176 L317.5 200 L320.5 204.2 L325 183 L327.5 200 L329.7 236 L331.7 222 L334 267 L336.3 236 L338.3 277 L342 265 L344.8 330.6 L347.5 335.3 L349.8 308 L351.2 330.6 L352.5 342 L355 322.5 L356.8 324 L358.8 315.6 L360 330.6 L361.5 346.5 L363.5 330.6 L366.2 313.8 L367.8 330.6 L368.8 386 L369.3 409.5 L371.5 389 L373.5 407 L376 376 L378 379 L380 390.7 L382.7 387.5 L384.8 371 L386 318.8 L388.4 327 L391.7 281.7 L395.3 266 L398.4 319 L400 285 L401.5 299 L403 230.3 L405 240.8 L408.3 241 L411.7 261.7 L413.3 281.7 L415.5 330.5 L418.3 358.2 L420.6 340 L421.7 330.5 L422.5 279 L425 278.7 L427.5 322.3 L430.3 314 L432.5 321.5 L433.8 340 L436.3 331.5 L438.3 344.6 L440.8 330.5 L441.7 328.5 L443.2 333.2 L445 324 L447.6 283.7 L452.7 330.5 L455.3 339 L457.5 356.5 L459.7 375.7 L461.5 361 L463.5 370 L464.3 365.3 L468 401.3 L471.8 382.6 L475 406.3 L478 381 L482.4 408 L488.2 346.5 L492 365 L494.5 329 L496.5 345 L499.5 317.5 L502.5 317.5 L503.8 330.5 L505.5 370 L508.6 392.2 L513 377.4 L519.3 412.3 L524 395 L525 343 L526.8 338.3 L530 370.8 L534.3 340.7 L536.7 362.7 L538.5 359.5 L540.3 329.8 L542.6 366 L545.3 317.6 L547.5 319 L550.6 330.5 L552.7 347.5 L555.2 356.5 L556.6 417 L559.6 394 L560.8 331 L561.7 273 L565 241.2 L569.2 249.5 L571.3 240.3 L573.3 280 L575.8 282.5 L578.8 262 L582 285.5 L583.5 250 L584.2 190 L585.8 188.5 L587.8 177 L589.2 186 L591 206 L592.5 184 L594.2 196 L595.5 181 L598.8 175.3 L600 191.7 L603.3 190.8 L606.2 202.3 L608 165.6 L611 189 L613.3 166 L614.3 168 L617.2 159.5 L619.2 184.2 L620.8 183.3 L622.5 205 L624.2 230 L626.3 268 L628 247.5 L629.2 252 L630.8 264.5 L632.5 236.7 L635 228.7 L637 236.7 L640 222 L642 225.5 L644.7 220.3 L646.7 235 L648.3 233.5 L650.3 242 L653.8 228.7 L655 250 L656.7 244 L656.9 280 L660.8 288.3 L664.7 324.7 L667.5 285.8 L669.2 293.3 L670.8 256.7 L672.2 232 L675 261.3 L678.2 247.4 L681.3 281.3 L684.2 265 L685.8 263.3 L687.5 272.2 L691.7 213.7 L696 268.8 L697.4 243 L700 306.7 L702.8 318.8 L705.8 316.7 L708.3 298.3 L710 255 L711.7 251.7 L713.3 232.8 L715.8 240 L719.2 290 L721.3 302.2 L725.3 259.5 L727.5 290 L729.2 313.8 L731.7 307 L734.8 326 L738 281.2 L739.3 336.3 L742.5 291.2 L744 308 L745 296.5 L746.6 331 L748.1 367.5 L750 369.6 L752.5 367.5 L754.4 366.9 L756.6 355.6 L759.1 375 L761.2 360 L762.3 362 L763.8 351.2 L766.2 367.5 L768.1 369.6 L770.6 357.5 L773.1 328.8 L776.2 332.5 L778.1 355.9 L780.6 355.5 L782.2 336.9 L784.4 345 L785.6 372.5 L788.1 407.5 L791.2 474.4 L793.5 460 L794.2 464 L795.6 445.6 L797.5 454.8 L800.6 426.2 L802.5 445 L804.4 448.8 L808.1 469.4 L810.6 451.9 L812.5 450 L813.8 454 L815 448 L815.6 415.6 L818.1 419.6 L820.2 415 L822.2 417 L823.5 431.9 L826.2 426.2 L829.6 420 L831.2 426.2 L832.5 450 L833.8 466 L835.6 465 L837.1 471.2 L838.8 460 L840 403 L841.9 395 L843.1 371.2 L845.6 382.1 L847.8 373.8 L850 395 L850.6 406 L853.8 418.1 L855 398.5 L856.9 401 L860 385 L861.9 372.5 L863.8 391.2 L867.5 398 L869.4 398 L871.2 409 L872.5 440 L874 469.4 L877.5 440 L881.2 417.3 L883.1 446.2 L884.4 421.5 L886.2 416.5 L888.1 415 L889.4 396 L890.6 355 L893.8 399.5 L896.9 398.8 L898.1 352 L901.5 363 L903.1 345.6 L905.6 351 L908.8 391.4 L910.6 369.4 L916.3 402.5 L917.5 352 L919.8 350.6 L922.5 383.8 L924.8 363.8 L928.1 386.2 L930 395 L933.1 415.6 L936.5 398.8 L940 409.8 L942.8 410.2 L945.6 399.4 L947.8 401.8 L950.6 400.8 L952.5 373.8 L954.8 357.5 L956.9 382.5 L958.1 396.2 L961.7 387.5 L963.9 407.4 L965.7 406.5 L967.5 433 L968.1 450 L971.2 458.8 L973.1 445.6 L976.2 455 L978.1 451.2 L979.4 427.5 L981.7 417.5 L983.8 408 L985.2 428.1 L988.1 406.7 L990 427 L991.2 433.8 L994.4 433.4 L997.5 460.6 L999.4 437.5 L1001 435 L1003.8 399.8 L1005.6 402 L1006.9 433.1 L1009.4 405 L1011.4 387 L1013.3 391 L1015.6 407.5 L1017.5 421.2 L1019 408.6 L1021.2 413.8 L1021.9 422.2 L1023.8 420 L1025.3 426.2 L1028.1 412.5 L1029.9 409.4 L1032.8 418.1 L1034.8 391 L1036.9 397.5 L1039 425 L1042.4 383.8 L1044.4 402.5 L1045.6 415 L1048.1 418 L1049.4 440 L1050 455 L1053.1 458.8 L1054 482.5 L1055.6 465 L1058.1 462.8 L1061.9 471.9 L1065 449.4 L1067.8 464.2 L1068.6 462.6" fill="none" stroke="#ea3943" stroke-width="4.2" stroke-linejoin="round" stroke-linecap="round"/></g>
<text class="ax" x="1081.5" y="90">5.0</text>
<text class="ax" x="1081.5" y="166">4.0</text>
<text class="ax" x="1081.5" y="262">3.0</text>
<text class="ax" x="1081.5" y="400">2.0</text>
<text class="ax" x="1081.5" y="634">1.0</text>
<text class="ax" x="49.5" y="773.4">Jan '24</text>
<text class="ax" x="231.5" y="773.4">May '24</text>
<text class="ax" x="420.5" y="773.4">Sep '24</text>
<text class="ax" x="609.3" y="773.4">Jan '25</text>
<text class="ax" x="789.5" y="773.4">May '25</text>
<text class="ax" x="979.5" y="773.4">Sep '25</text>
<text class="bt" x="533.4" y="797.6">2</text>
<text class="bt" x="982.2" y="797.6">Analyze</text>
</svg>
</body>
</html>
